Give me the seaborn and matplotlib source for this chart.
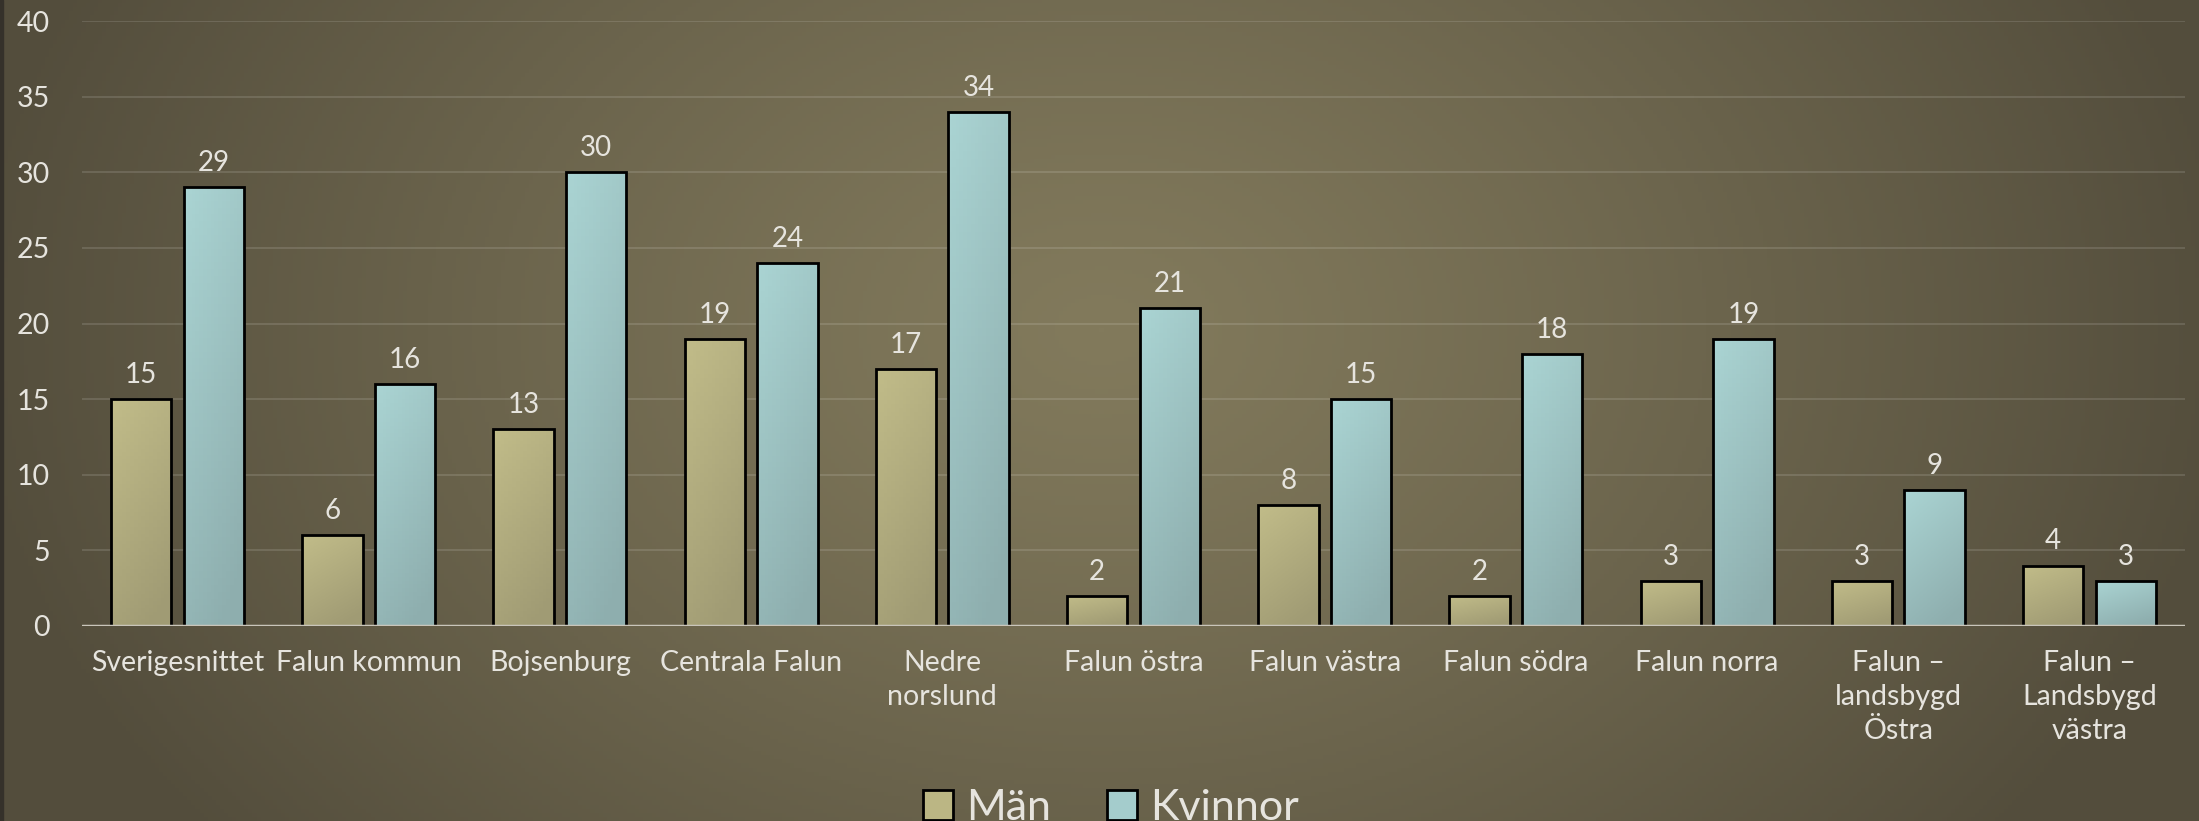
import numpy as np
import pandas as pd
import matplotlib
matplotlib.use("Agg")
import matplotlib.pyplot as plt
import seaborn as sns
from matplotlib.patches import Patch, Rectangle

# Chart data
categories = ["Sverigesnittet", "Falun kommun", "Bojsenburg", "Centrala Falun",
              "Nedre\nnorslund", "Falun östra", "Falun västra", "Falun södra",
              "Falun norra", "Falun –\nlandsbygd\nÖstra", "Falun –\nLandsbygd\nvästra"]
man = [15, 6, 13, 19, 17, 2, 8, 2, 3, 3, 4]
kvinnor = [29, 16, 30, 24, 34, 21, 15, 18, 19, 9, 3]
series = ["Män", "Kvinnor"]
yticks = [0, 5, 10, 15, 20, 25, 30, 35, 40]

df = pd.DataFrame({
    "Område": categories * 2,
    "Andel": man + kvinnor,
    "Kön": [series[0]] * len(man) + [series[1]] * len(kvinnor),
})

sns.set_theme(style="white")
plt.rcParams["font.family"] = ["Lato", "DejaVu Sans"]
txt = "#e6e4de"

fig = plt.figure(figsize=(21.99, 8.21), dpi=100)

# background radial gradient
bg = fig.add_axes([0, 0, 1, 1], zorder=-5)
h, w = 200, 540
yy, xx = np.mgrid[0:h, 0:w]
d = np.sqrt(((xx / w - 0.5) / 0.72) ** 2 + ((yy / h - 0.4) / 1.4) ** 2)
d = np.clip(d / 0.72, 0, 1) ** 1.2
c0 = np.array([0x82, 0x7a, 0x5c]) / 255
c1 = np.array([0x53, 0x4d, 0x3c]) / 255
img = c0[None, None, :] * (1 - d[..., None]) + c1[None, None, :] * d[..., None]
bg.imshow(img, aspect="auto", extent=[0, 1, 0, 1], origin="upper")
bg.add_patch(Rectangle((0, 0), 0.0015, 1, color="#35312a", transform=bg.transAxes))
bg.axis("off")

ax = fig.add_axes([82 / 2199, 1 - 626 / 821, (2185 - 82) / 2199, (626 - 21) / 821])
ax.set_facecolor("none")

pal = {"Män": "#bbb684", "Kvinnor": "#a4cccc"}
sns.barplot(data=df, x="Område", y="Andel", hue="Kön", palette=pal, width=0.76, gap=0.17,
            edgecolor="black", linewidth=2, legend=False, ax=ax, zorder=3)

# gradient fill inside the bars
grads = {"Män": ("#c1bc89", "#a09b74"), "Kvinnor": ("#aad4d3", "#8eaeae")}
for cont, name in zip(ax.containers, series):
    top, bot = [np.array(matplotlib.colors.to_rgb(c)) for c in grads[name]]
    t = np.linspace(0, 1, 64)[:, None, None]
    s = np.linspace(0, 0.3, 16)[None, :, None]
    k = np.clip(t * 0.8 + s, 0, 1)
    g = top * (1 - k) + bot * k
    for bar in cont:
        x0, y0 = bar.get_x(), bar.get_y()
        bw, bh = bar.get_width(), bar.get_height()
        im = ax.imshow(g, extent=[x0, x0 + bw, y0, y0 + bh], aspect="auto",
                       origin="upper", zorder=2.5)
        im.set_clip_path(bar)
        bar.set_facecolor("none")
    ax.bar_label(cont, padding=8, fontsize=20, color=txt)

ax.set_ylim(0, 40)
ax.set_xlim(-0.5, len(categories) - 0.5)
ax.set_yticks(yticks)
ax.yaxis.grid(True, color="white", alpha=0.12, linewidth=1.5, zorder=0)
ax.set_axisbelow(True)
ax.axhline(0, color="#c9c5ba", linewidth=2.5, zorder=4)
for sp in ax.spines.values():
    sp.set_visible(False)
ax.tick_params(axis="both", length=0, colors=txt, labelsize=20.5)
ax.tick_params(axis="y", pad=23)
ax.tick_params(axis="x", pad=17)
ax.set_xticks(range(len(categories)))
ax.set_xticklabels(categories, linespacing=1.4)
ax.set_xlabel("")
ax.set_ylabel("")

handles = [Patch(facecolor=pal[s], edgecolor="black", linewidth=2, label=s) for s in series]
fig.legend(handles=handles, loc="upper center", bbox_to_anchor=(0.505, 0.065), ncol=2,
           frameon=False, fontsize=31, labelcolor=txt, handlelength=0.7, handleheight=0.7,
           handletextpad=0.3, columnspacing=1.3, borderpad=0)

fig.savefig("out.png", dpi=100)
